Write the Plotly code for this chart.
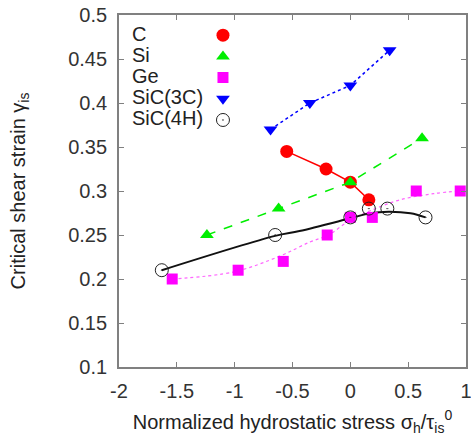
import plotly.graph_objects as go

# ---- data ----
c_x = [-0.55, -0.21, 0.0, 0.16]
c_y = [0.345, 0.325, 0.31, 0.29]

si_x = [-1.24, -0.62, 0.0, 0.62]
si_y = [0.25, 0.28, 0.31, 0.36]

ge_x = [-1.54, -0.97, -0.58, -0.20, 0.0, 0.19, 0.57, 0.95]
ge_y = [0.20, 0.21, 0.22, 0.25, 0.27, 0.27, 0.30, 0.30]

sic3c_x = [-0.69, -0.35, 0.0, 0.34]
sic3c_y = [0.37, 0.40, 0.42, 0.46]

sic4h_x = [-1.63, -0.65, 0.0, 0.16, 0.32, 0.65]
sic4h_y = [0.21, 0.25, 0.27, 0.28, 0.28, 0.27]

# smooth fit curves
ge_fit_x = [-1.54, -1.01, -0.61, -0.35, -0.19, 0.0, 0.18, 0.43, 0.72, 0.95]
ge_fit_y = [0.200, 0.208, 0.226, 0.242, 0.250, 0.267, 0.278, 0.290, 0.297, 0.300]

sic4h_fit_x = [-1.63, -0.65, -0.44, 0.0, 0.17, 0.33, 0.52, 0.65]
sic4h_fit_y = [0.210, 0.249, 0.2545, 0.269, 0.2747, 0.2765, 0.2747, 0.270]

names = ["C", "Si", "Ge", "SiC(3C)", "SiC(4H)"]
x_ticks = [-2, -1.5, -1, -0.5, 0, 0.5, 1]
x_tick_labels = ["-2", "-1.5", "-1", "-0.5", "0", "0.5", "1"]
y_ticks = [0.1, 0.15, 0.2, 0.25, 0.3, 0.35, 0.4, 0.45, 0.5]
y_tick_labels = ["0.1", "0.15", "0.2", "0.25", "0.3", "0.35", "0.4", "0.45", "0.5"]

FONT = "Liberation Sans, Arial, Helvetica, sans-serif"

fig = go.Figure()

# lines
fig.add_trace(go.Scatter(x=c_x, y=c_y, mode="lines",
                         line=dict(color="#ff0000", width=1.5), showlegend=False, hoverinfo="skip"))
fig.add_trace(go.Scatter(x=si_x, y=si_y, mode="lines",
                         line=dict(color="#00ee00", width=1.5, dash="dash"), showlegend=False, hoverinfo="skip"))
fig.add_trace(go.Scatter(x=sic3c_x, y=sic3c_y, mode="lines",
                         line=dict(color="#0000ff", width=1.5, dash="dot"), showlegend=False, hoverinfo="skip"))
fig.add_trace(go.Scatter(x=ge_fit_x, y=ge_fit_y, mode="lines", line_shape="spline",
                         line=dict(color="#ff66ff", width=1.2, dash="dot"), showlegend=False, hoverinfo="skip"))
fig.add_trace(go.Scatter(x=sic4h_fit_x, y=sic4h_fit_y, mode="lines", line_shape="spline",
                         line=dict(color="#111111", width=2), showlegend=False, hoverinfo="skip"))

# markers (symbols shown in legend2, to the right of the text)
marker_specs = [
    (c_x, c_y, dict(symbol="circle", size=13, color="#ff0000")),
    (si_x, si_y, dict(symbol="triangle-up", size=12, color="#00ee00")),
    (ge_x, ge_y, dict(symbol="square", size=11, color="#ff00ff")),
    (sic3c_x, sic3c_y, dict(symbol="triangle-down", size=12, color="#0000ff")),
    (sic4h_x, sic4h_y, dict(symbol="circle-open-dot", size=13, color="#222222", line=dict(width=1))),
]
for (xs, ys, mk), nm in zip(marker_specs, names):
    fig.add_trace(go.Scatter(x=xs, y=ys, mode="markers", marker=mk, name=" ",
                             legend="legend2", showlegend=True))

# text-only legend entries
for nm in names:
    fig.add_trace(go.Scatter(x=[None], y=[None], mode="markers",
                             marker=dict(color="rgba(0,0,0,0)", size=1),
                             name='<span style="font-size:20px">' + nm + "</span>",
                             legend="legend", showlegend=True))

axis_common = dict(
    showgrid=False, zeroline=False, showline=True, mirror="ticks",
    linecolor="#808080", linewidth=1.8, ticks="inside", ticklen=5,
    tickcolor="#808080", tickwidth=1.2, ticklabeloverflow="allow",
    tickfont=dict(family=FONT, size=20, color="#333333"),
)

fig.update_layout(
    width=471, height=436,
    margin=dict(l=119, r=5, t=15, b=69, autoexpand=False),
    paper_bgcolor="white", plot_bgcolor="white",
    font=dict(family=FONT, size=20, color="#222222"),
    xaxis=dict(range=[-2, 1], tickvals=x_ticks, ticktext=x_tick_labels,
               ticklabelstandoff=5,
               title=dict(text="Normalized hydrostatic stress σ<sub>h</sub>/τ<sub>is</sub><sup>0</sup>",
                          font=dict(family=FONT, size=20, color="#222222"), standoff=14),
               **axis_common),
    yaxis=dict(range=[0.1, 0.5], tickvals=y_ticks, ticktext=y_tick_labels,
               ticklabelstandoff=6,
               title=dict(text="Critical shear strain γ<sub>is</sub>",
                          font=dict(family=FONT, size=20, color="#222222"), standoff=37),
               **axis_common),
    legend=dict(x=-0.078, y=0.987, xanchor="left", yanchor="top",
                bgcolor="rgba(0,0,0,0)", borderwidth=0,
                font=dict(family=FONT, size=14, color="#222222"),
                itemclick=False, itemdoubleclick=False),
    legend2=dict(x=0.242, y=0.987, xanchor="left", yanchor="top",
                 bgcolor="rgba(0,0,0,0)", borderwidth=0,
                 font=dict(family=FONT, size=14, color="#222222"),
                 itemclick=False, itemdoubleclick=False),
)

fig.write_html("out.html",
               config={"displayModeBar": False},
               post_script="document.body.style.margin='0';document.body.style.overflow='hidden';")
